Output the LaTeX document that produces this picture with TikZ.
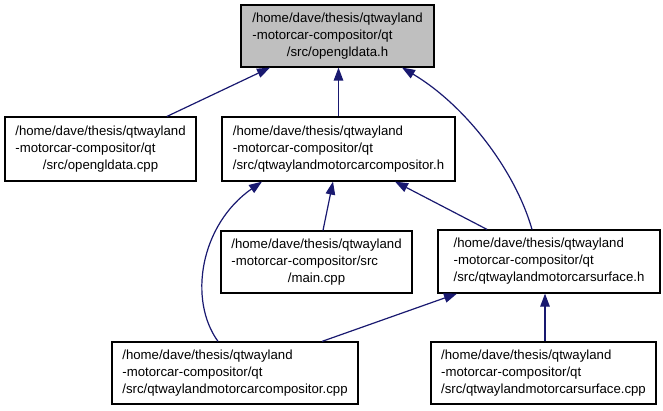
\documentclass[tikz,border=0pt]{standalone}
\usepackage{fontspec}
\setmainfont{Liberation Sans}
\usetikzlibrary{arrows.meta}
\definecolor{edgeblue}{HTML}{191970}
\definecolor{grayfill}{HTML}{BFBFBF}
\newcommand{\fpath}[3]{\begin{tabular}{@{}l@{}}#1\\#2\\\multicolumn{1}{@{}c@{}}{#3}\end{tabular}}
\tikzset{
  filebox/.style={draw=black, line width=1.2pt, fill=white, inner sep=0pt,
    font=\fontsize{13.2}{17}\selectfont},
  depline/.style={draw=edgeblue, line width=1.2pt, {Triangle[length=13pt,width=9.5pt]}-}
}
\begin{document}
\begin{tikzpicture}[x=1pt,y=-1pt]
\useasboundingbox (0,0) rectangle (663,411);
\node[filebox, fill=grayfill, minimum width=193pt, minimum height=62pt] (top) at (337.5,36)
  {\fpath{/home/dave/thesis/qtwayland}{-motorcar-compositor/qt}{/src/opengldata.h}};
\node[filebox, minimum width=191pt, minimum height=64pt] (left) at (100.5,149)
  {\fpath{/home/dave/thesis/qtwayland}{-motorcar-compositor/qt}{/src/opengldata.cpp}};
\node[filebox, minimum width=233pt, minimum height=64pt] (mid) at (338.5,149)
  {\fpath{/home/dave/thesis/qtwayland}{-motorcar-compositor/qt}{/src/qtwaylandmotorcarcompositor.h}};
\node[filebox, minimum width=191pt, minimum height=62pt] (main) at (316.5,262)
  {\fpath{/home/dave/thesis/qtwayland}{-motorcar-compositor/src}{/main.cpp}};
\node[filebox, minimum width=222pt, minimum height=63pt] (surfh) at (549,261.5)
  {\fpath{/home/dave/thesis/qtwayland}{-motorcar-compositor/qt}{/src/qtwaylandmotorcarsurface.h}};
\node[filebox, minimum width=246pt, minimum height=62pt] (compcpp) at (235,373)
  {\fpath{/home/dave/thesis/qtwayland}{-motorcar-compositor/qt}{/src/qtwaylandmotorcarcompositor.cpp}};
\node[filebox, minimum width=225pt, minimum height=62pt] (surfcpp) at (543.5,373)
  {\fpath{/home/dave/thesis/qtwayland}{-motorcar-compositor/qt}{/src/qtwaylandmotorcarsurface.cpp}};

\draw[depline] ([xshift=-67.5pt]top.south) -- ([xshift=66.5pt]left.north);
\draw[depline] (mid.north |- top.south) -- (mid.north);
\draw[depline] ([xshift=64.5pt]top.south) .. controls (465,105) and (515,170) .. ([xshift=-17pt]surfh.north);
\draw[depline] ([xshift=-76.5pt]mid.south) .. controls (200,225) and (188,300) .. ([xshift=-17pt]compcpp.north);
\draw[depline] ([xshift=-5.5pt]mid.south) -- ([xshift=6.5pt]main.north);
\draw[depline] ([xshift=56.5pt]mid.south) -- ([xshift=-62pt]surfh.north);
\draw[depline] ([xshift=-92pt]surfh.south) -- ([xshift=87pt]compcpp.north);
\draw[depline] ([xshift=1.5pt]surfcpp.north |- surfh.south) -- ([xshift=1.5pt]surfcpp.north);
\end{tikzpicture}
\end{document}
